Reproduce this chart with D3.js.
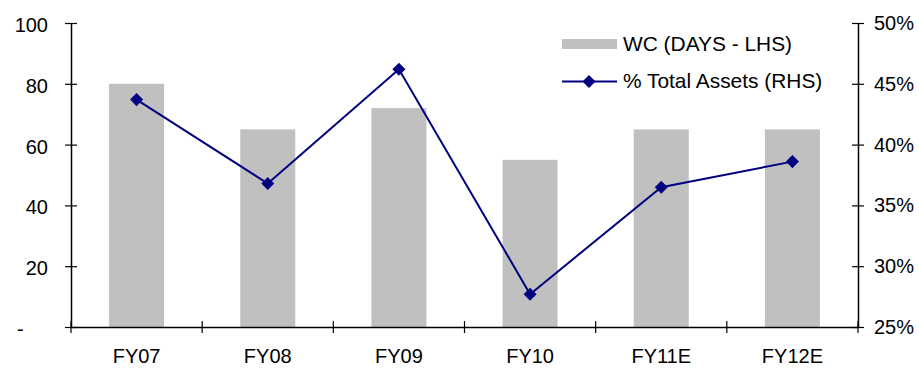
<!DOCTYPE html>
<html><head><meta charset="utf-8">
<script src="https://cdn.jsdelivr.net/npm/d3@7"></script>
<style>body{margin:0;background:#fff}svg{display:block}text{font-family:"Liberation Sans",Arial,sans-serif;font-size:20px;fill:#000}</style>
</head><body>
<script>
const categories = ["FY07","FY08","FY09","FY10","FY11E","FY12E"];
const wcDays = [80, 65, 72, 55, 65, 65];
const pctAssets = [43.7, 36.8, 46.2, 27.7, 36.5, 38.6];
const leftTicks = [0, 20, 40, 60, 80, 100];
const rightTicks = [25, 30, 35, 40, 45, 50];

const W = 919, H = 369;
const m = {l: 71, r: 61, t: 23, b: 42};
const svg = d3.select("body").append("svg").attr("width", W).attr("height", H);
const xb = d3.scaleBand().domain(categories).range([m.l, W - m.r]);
const yL = d3.scaleLinear().domain([0, 100]).range([H - m.b, m.t]);
const yR = d3.scaleLinear().domain([25, 50]).range([H - m.b, m.t]);
const barW = 55;

// bars
svg.append("g").selectAll("rect").data(categories).join("rect")
  .attr("x", d => xb(d) + xb.bandwidth()/2 - barW/2)
  .attr("width", barW)
  .attr("y", (d,i) => yL(wcDays[i]))
  .attr("height", (d,i) => yL(0) - yL(wcDays[i]))
  .attr("fill", "#c0c0c0");

// axes
const axL = d3.axisLeft(yL).tickValues(leftTicks).tickSizeInner(6).tickSizeOuter(0).tickPadding(17)
  .tickFormat(d => d === 0 ? "-" : d);
const gL = svg.append("g").attr("transform", `translate(${m.l},0)`).call(axL);
const axR = d3.axisRight(yR).tickValues(rightTicks).tickSizeInner(6).tickSizeOuter(0).tickPadding(10)
  .tickFormat(d => d + "%");
const gR = svg.append("g").attr("transform", `translate(${W - m.r},0)`).call(axR);
const axB = d3.axisBottom(xb).tickSize(6).tickSizeOuter(0).tickPadding(16);
const gB = svg.append("g").attr("transform", `translate(0,${H - m.b})`).call(axB);
gB.selectAll(".tick line").remove();
const bounds = categories.map(c => xb(c)).concat([W - m.r]);
gB.selectAll(".btick").data(bounds).join("line").attr("class","btick")
  .attr("x1", d => d).attr("x2", d => d).attr("y1", -6).attr("y2", 6).attr("stroke", "#000").attr("stroke-width", 1.2);
[gL, gR].forEach(g => g.selectAll(".tick line").attr("x1", 6).attr("x2", -6));
[gL, gR, gB].forEach(g => {
  g.select(".domain").attr("stroke", "#000").attr("stroke-width", 1.5);
  g.selectAll(".tick line").attr("stroke", "#000").attr("stroke-width", 1.2);
  g.selectAll("text").attr("font-size", 20).attr("font-family", '"Liberation Sans",Arial,sans-serif').attr("fill", "#000");
});
gL.selectAll("text").attr("dy", "0.42em");
gR.selectAll("text").attr("dy", "0.32em");
gL.selectAll(".tick").filter(d => d === 0).select("text").attr("text-anchor", "start").attr("x", -54);
gB.selectAll("text").attr("dy", "0.71em");

// line
const pts = categories.map((c, i) => [xb(c) + xb.bandwidth()/2, yR(pctAssets[i])]);
svg.append("path").attr("d", d3.line()(pts)).attr("fill", "none").attr("stroke", "#000080").attr("stroke-width", 2);
const diamond = d3.symbol().type(d3.symbolSquare).size(85);
svg.append("g").selectAll("path").data(pts).join("path")
  .attr("d", diamond).attr("transform", d => `translate(${d[0]},${d[1]}) rotate(45)`)
  .attr("fill", "#000080");

// legend
const lg = svg.append("g");
lg.append("rect").attr("x", 562).attr("y", 39).attr("width", 55).attr("height", 10).attr("fill", "#c0c0c0");
lg.append("text").attr("x", 623).attr("y", 50.5).style("font-size", "20.9px").text("WC (DAYS - LHS)");
lg.append("line").attr("x1", 562).attr("x2", 617).attr("y1", 81.5).attr("y2", 81.5).attr("stroke", "#000080").attr("stroke-width", 2);
lg.append("path").attr("d", diamond).attr("transform", "translate(589,81.5) rotate(45)").attr("fill", "#000080");
lg.append("text").attr("x", 623).attr("y", 88).style("font-size", "20.9px").text("% Total Assets (RHS)");
</script>
</body></html>
